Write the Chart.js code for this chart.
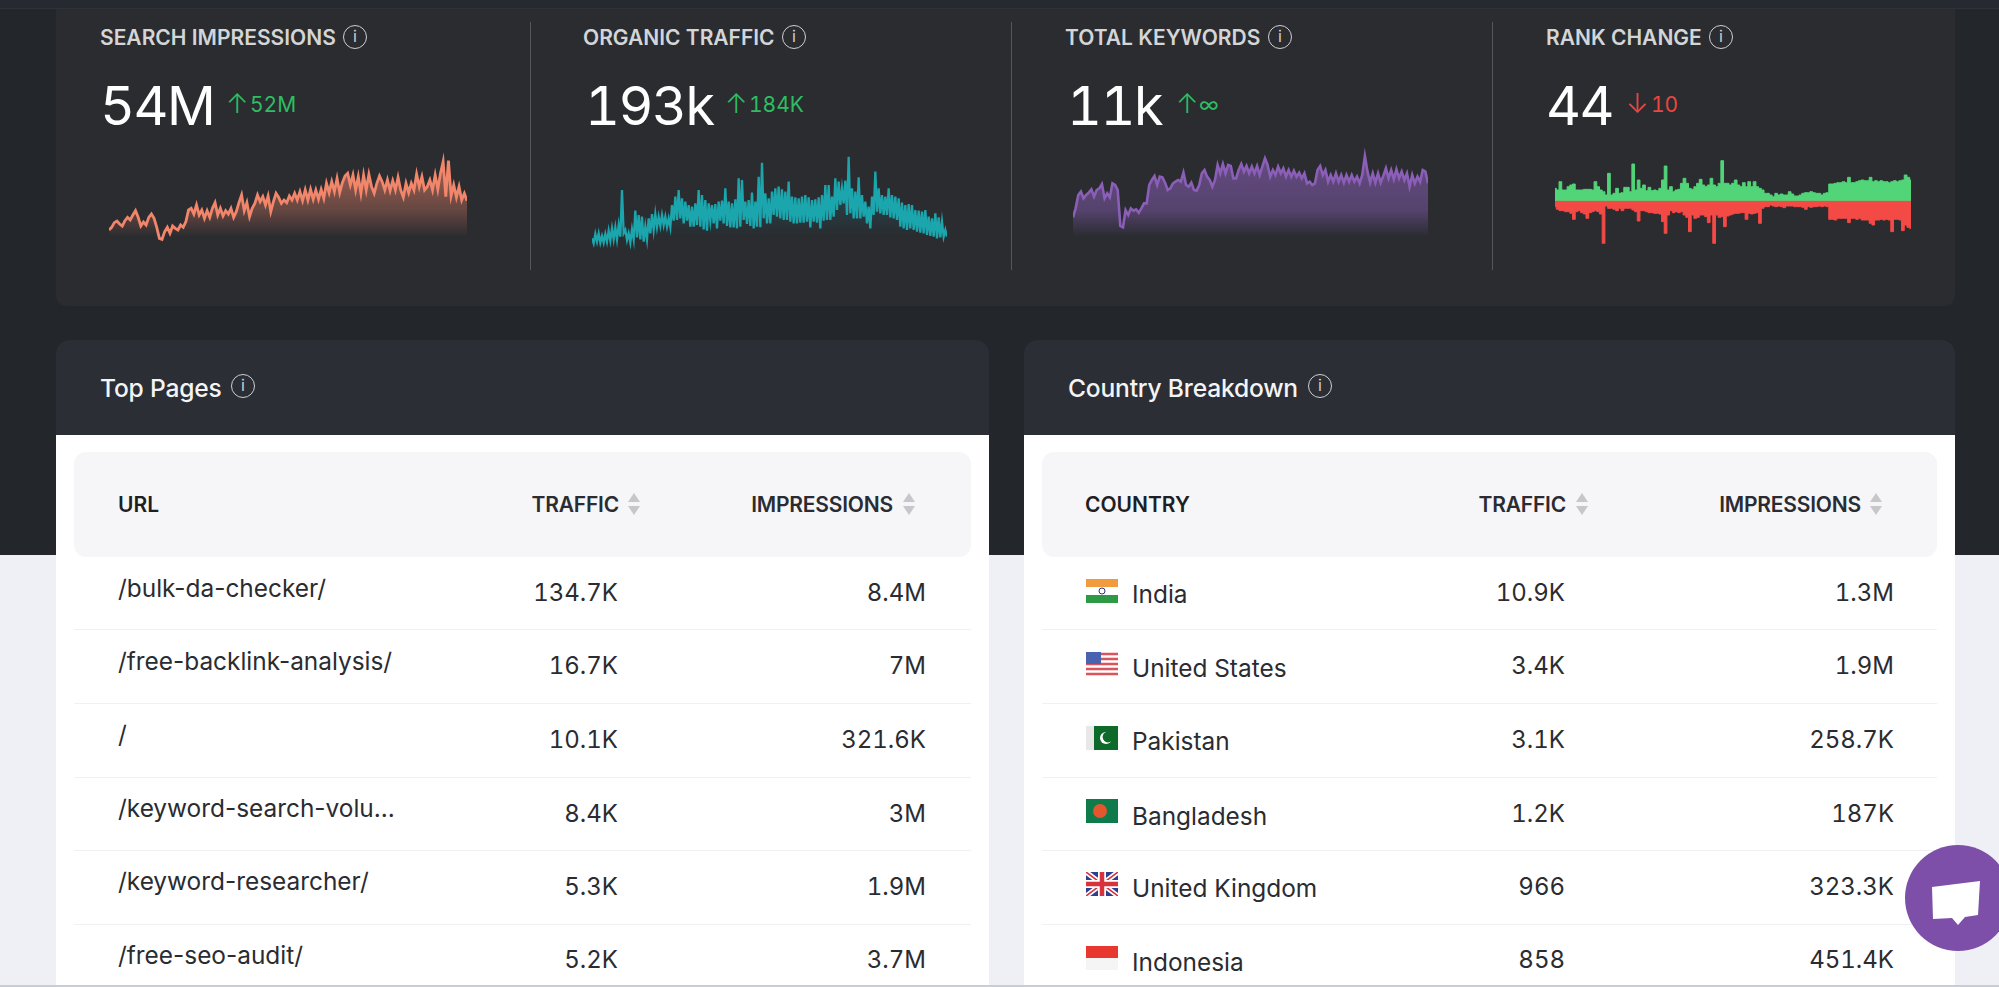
<!DOCTYPE html>
<html>
<head>
<meta charset="utf-8">
<title>Site overview</title>
<script src="https://cdn.jsdelivr.net/npm/chart.js@4"></script>
<style>
html, body { margin: 0; padding: 0; width: 1999px; height: 987px; overflow: hidden; background: #eef0f5; font-family: Inter, sans-serif; }
.box { position: absolute; }
.txt { position: absolute; white-space: nowrap; line-height: 1; }
canvas { position: absolute; }
.info { position: absolute; box-sizing: border-box; width: 24px; height: 24px; border: 1.8px solid #cfd0d2; border-radius: 50%; color: #cfd0d2; font-size: 16px; line-height: 20px; text-align: center; font-weight: 400; }
</style>
</head>
<body>
<script>
// Sparkline values
const impressionsValues = [90,98,112,117,108,102,118,128,120,135,148,128,102,114,105,128,138,125,98,65,62,85,98,80,102,95,90,105,98,115,150,155,138,165,135,150,125,148,128,155,172,135,155,132,148,138,155,128,145,172,195,148,172,130,155,170,195,175,190,165,192,145,175,200,188,170,180,172,192,180,200,180,205,178,210,180,212,182,210,182,212,185,230,202,235,205,245,202,232,252,260,225,255,210,250,200,255,210,257,220,200,230,252,235,210,240,208,238,210,248,210,188,230,202,230,210,258,220,250,210,220,240,210,255,212,260,295,190,298,192,225,188,220,180,200,178];
const trafficValues = [65,50,78,55,80,52,72,52,78,55,88,58,95,62,98,62,105,70,210,80,90,60,80,52,92,62,148,68,135,62,130,55,100,62,125,80,138,90,138,98,130,102,135,105,130,100,125,98,165,118,190,120,210,125,185,110,175,118,165,100,160,100,170,105,210,100,195,92,180,88,170,118,165,110,168,95,175,118,178,110,215,102,175,98,170,98,182,95,245,100,240,120,175,108,180,102,202,95,175,100,250,98,292,125,200,110,185,110,205,135,215,130,220,125,212,120,205,120,235,115,190,110,188,110,185,112,190,112,195,115,188,98,180,115,182,112,188,95,195,118,225,120,225,120,190,130,245,150,235,165,215,170,238,135,310,140,215,125,205,125,248,125,195,130,175,110,160,95,190,135,265,145,215,140,195,135,190,135,215,128,195,125,190,120,185,100,172,95,165,90,168,95,165,90,150,85,148,82,145,80,150,75,130,72,125,70,140,65,128,68,115,70,90,70];
const keywordValues = [128,155,195,205,185,195,202,212,190,210,215,228,185,200,188,230,225,210,102,98,150,135,155,148,152,142,155,170,170,225,240,252,225,250,248,232,210,215,230,235,240,235,262,225,220,232,210,208,225,260,270,250,240,220,240,285,260,288,260,285,282,245,245,270,288,265,282,260,280,260,282,255,280,305,285,250,270,255,280,260,275,250,270,250,268,250,262,245,260,230,235,225,230,270,282,255,270,235,255,235,260,235,255,232,255,235,255,235,250,230,255,312,265,232,260,232,260,232,252,275,245,270,242,272,245,265,240,260,220,255,230,250,235,270,265,230];
const rankUpValues = [37,32,57,32,32,42,47,50,32,32,32,34,34,34,32,57,42,32,27,17,82,17,22,37,22,24,40,40,27,110,32,62,37,47,30,40,30,32,30,37,62,104,32,42,27,32,34,52,67,52,37,34,42,52,64,47,42,47,67,47,42,52,120,52,52,47,52,62,47,42,54,42,57,42,57,42,37,32,22,22,17,12,22,17,20,17,17,27,20,14,14,17,22,24,24,27,24,22,22,17,22,24,50,50,52,54,54,57,54,70,54,54,57,60,62,60,60,70,57,60,57,60,57,57,54,57,60,57,60,62,77,70,62];
const rankDownValues = [-18,-26,-30,-30,-33,-33,-38,-56,-33,-30,-36,-40,-53,-36,-33,-30,-33,-40,-128,-16,-23,-23,-26,-30,-23,-30,-23,-23,-23,-28,-33,-61,-30,-30,-33,-36,-36,-38,-38,-40,-63,-98,-43,-30,-36,-33,-36,-33,-43,-50,-93,-43,-53,-50,-43,-43,-48,-66,-43,-128,-43,-50,-48,-78,-46,-43,-40,-38,-38,-36,-36,-56,-38,-40,-38,-36,-68,-23,-18,-18,-13,-16,-18,-16,-18,-21,-16,-16,-16,-18,-18,-18,-20,-26,-18,-20,-18,-18,-16,-18,-16,-18,-56,-56,-58,-53,-53,-53,-53,-66,-53,-53,-56,-53,-58,-58,-58,-68,-73,-58,-58,-56,-58,-56,-58,-93,-56,-56,-58,-90,-73,-80,-83];

// Table contents
const kpiTitles = ['SEARCH IMPRESSIONS', 'ORGANIC TRAFFIC', 'TOTAL KEYWORDS', 'RANK CHANGE'];
const kpiValues = ['54M', '193k', '11k', '44'];
const kpiDeltas = ['52M', '184K', '∞', '10'];
const pageUrls = ['/bulk-da-checker/', '/free-backlink-analysis/', '/', '/keyword-search-volu...', '/keyword-researcher/', '/free-seo-audit/'];
const pageTraffic = ['134.7K', '16.7K', '10.1K', '8.4K', '5.3K', '5.2K'];
const pageImpressions = ['8.4M', '7M', '321.6K', '3M', '1.9M', '3.7M'];
const countries = ['India', 'United States', 'Pakistan', 'Bangladesh', 'United Kingdom', 'Indonesia'];
const countryTraffic = ['10.9K', '3.4K', '3.1K', '1.2K', '966', '858'];
const countryImpressions = ['1.3M', '1.9M', '258.7K', '187K', '323.3K', '451.4K'];

function addBox(x, y, w, h, bg, radius) {
    const el = document.createElement('div');
    el.className = 'box';
    el.style.cssText = `left:${x}px;top:${y}px;width:${w}px;height:${h}px;background:${bg};border-radius:${radius || '0'};`;
    document.body.appendChild(el);
    return el;
}

// x is the left edge, or the right edge when right is true. y is the text centre.
function addText(text, x, y, size, weight, color, right, spacing) {
    const el = document.createElement('div');
    el.className = 'txt';
    el.textContent = text;
    el.style.cssText = `top:${y - size / 2}px;font-size:${size}px;font-weight:${weight};color:${color};letter-spacing:${spacing || 0}px;` +
        (right ? `right:${1999 - x}px;` : `left:${x}px;`);
    // numbers only: tabular figures also widen the hyphens in the urls
    if (/^\d/.test(text)) el.style.fontVariantNumeric = 'tabular-nums';
    document.body.appendChild(el);
}

function addInfo(x, y) {
    const el = document.createElement('div');
    el.className = 'info';
    el.textContent = 'i';
    el.style.left = (x - 12) + 'px';
    el.style.top = (y - 12) + 'px';
    document.body.appendChild(el);
}

function addSortArrows(x, y) {
    const el = document.createElement('div');
    el.innerHTML = `<svg width="14" height="24" style="position:absolute;left:${x - 7}px;top:${y - 12}px"><path d="M7 1 L13 10 L1 10 Z" fill="#c6c6cb"/><path d="M7 23 L13 14 L1 14 Z" fill="#c6c6cb"/></svg>`;
    document.body.appendChild(el);
}

function addSvg(markup, x, y, w, h) {
    const el = document.createElement('div');
    el.innerHTML = `<svg viewBox="0 0 32 24" width="${w}" height="${h}" style="position:absolute;left:${x}px;top:${y}px">${markup}</svg>`;
    document.body.appendChild(el);
}

// Page backgrounds
addBox(0, 0, 1999, 555, '#23262b');
addBox(0, 0, 1999, 8, '#262a30');
addBox(0, 8, 1999, 1, '#2f3238');
addBox(56, 9, 1899, 297, '#2a2c30', '0 0 10px 10px');

// KPI strip
[530, 1011, 1492].forEach(x => addBox(x, 22, 1, 248, '#54565a'));
const kpiTitleX = [100, 583, 1065, 1546];
const kpiInfoX = [355, 794, 1280, 1721];
const kpiValueX = [100, 585, 1067, 1546];
const kpiArrowX = [226, 725, 1176, 1626];
const kpiDeltaX = [250, 749, 1199, 1651];
kpiTitles.forEach((t, i) => {
    addText(t, kpiTitleX[i], 37, 21, 600, '#d4d5d7');
    addInfo(kpiInfoX[i], 37);
    addText(kpiValues[i], kpiValueX[i], 106, 54, 400, '#ffffff', false, -1.5);
    const down = i === 3;
    const col = down ? '#e9473f' : '#2ebd62';
    addText(down ? '↓' : '↑', kpiArrowX[i], 103, 27, 300, col);
    addText(kpiDeltas[i], kpiDeltaX[i], 104, 21, 400, col);
});

// Sparklines
function spark(id, x, w, datasets, yMin, yMax) {
    const canvas = document.createElement('canvas');
    canvas.id = id;
    canvas.width = w;
    canvas.height = 120;
    canvas.style.left = x + 'px';
    canvas.style.top = '140px';
    document.body.appendChild(canvas);
    const longest = Math.max(...datasets.map(d => d.data.length));
    new Chart(canvas.getContext('2d'), {
        type: 'line',
        data: {
            labels: Array.from({ length: longest }, (_, i) => i + 1),
            datasets: datasets
        },
        options: {
            responsive: false,
            animation: false,
            layout: { padding: 0 },
            elements: { point: { radius: 0 }, line: { tension: 0 } },
            scales: {
                x: { display: false },
                y: { display: false, min: yMin, max: yMax }
            },
            plugins: { legend: { display: false }, tooltip: { enabled: false } }
        }
    });
}

function fade(rgb, topAlpha, midAlpha) {
    const g = document.createElement('canvas').getContext('2d').createLinearGradient(0, 20, 0, 97);
    g.addColorStop(0, `rgba(${rgb},${topAlpha})`);
    g.addColorStop(0.65, `rgba(${rgb},${midAlpha})`);
    g.addColorStop(1, `rgba(${rgb},0)`);
    return g;
}

spark('impressionsChart', 109, 358, [{
    data: impressionsValues, borderColor: '#f2866b', borderWidth: 2.8, fill: 'origin', backgroundColor: fade('240,133,106', 0.62, 0.3)
}], 0, 360);
spark('trafficChart', 592, 355, [{
    data: trafficValues, borderColor: '#1ba5ad', borderWidth: 2.3, fill: 'origin', backgroundColor: fade('27,165,173', 0.2, 0.12)
}], 0, 360);
spark('keywordsChart', 1073, 355, [{
    data: keywordValues, borderColor: '#8b5fb8', borderWidth: 2.6, fill: 'origin', backgroundColor: fade('139,95,184', 0.6, 0.45)
}], 0, 360);
spark('rankChart', 1555, 356, [
    { data: rankUpValues, borderColor: '#52d478', borderWidth: 1, fill: 'origin', backgroundColor: '#52d478', stepped: 'middle' },
    { data: rankDownValues, borderColor: '#f44a45', borderWidth: 1, fill: 'origin', backgroundColor: '#f44a45', stepped: 'middle' },
    { data: rankUpValues.map(() => 0), borderColor: '#a3a064', borderWidth: 2, fill: false }
], -178, 182);

// Table panels
function panel(x, w, title, infoX, firstHead, firstX, trafficRight, trafficArrow, imprRight, imprArrow) {
    addBox(x, 340, w, 96, '#2b2e35', '14px 14px 0 0');
    addBox(x, 435, w, 552, '#ffffff');
    addBox(x + 18, 452, w - 36, 105, '#f6f6f9', '12px');
    addText(title, x + 44, 388, 24.6, 500, '#f4f4f5', false, -0.2);
    addInfo(infoX, 386);
    addText(firstHead, firstX, 504.5, 21, 600, '#1d1f24');
    addText('TRAFFIC', trafficRight, 504.5, 21, 600, '#2a2c31', true, -0.2);
    addSortArrows(trafficArrow, 504);
    addText('IMPRESSIONS', imprRight, 504.5, 21, 600, '#2a2c31', true, -0.2);
    addSortArrows(imprArrow, 504);
    [629, 703, 777, 850, 924].forEach(y => addBox(x + 18, y, w - 36, 1, '#f1f1f4'));
}

panel(56, 933, 'Top Pages', 243, 'URL', 118, 619, 634, 893, 909);
panel(1024, 931, 'Country Breakdown', 1320, 'COUNTRY', 1085, 1566, 1582, 1861, 1876);

const rowY = [593, 666, 740, 814, 887, 960];
const urlY = [588, 661, 734, 808, 881, 955];
const countryY = [594, 668, 741, 816, 888, 962];
pageUrls.forEach((u, i) => {
    addText(u, 118, urlY[i], 24.4, 400, '#2a2c31');
    addText(pageTraffic[i], 618, rowY[i], 24, 400, '#2a2c31', true);
    addText(pageImpressions[i], 926, rowY[i], 24, 400, '#2a2c31', true);
});
countries.forEach((c, i) => {
    addText(c, 1132, countryY[i], 24.4, 400, '#2a2c31');
    addText(countryTraffic[i], 1565, rowY[i], 24, 400, '#2a2c31', true);
    addText(countryImpressions[i], 1894, rowY[i], 24, 400, '#2a2c31', true);
});

// Flags
const flags = [
    '<rect width="32" height="8" fill="#f29a3e"/><rect y="8" width="32" height="8" fill="#fff"/><rect y="16" width="32" height="8" fill="#2f9a45"/><circle cx="16" cy="12" r="3" fill="none" stroke="#27348b"/>',
    '<rect width="32" height="24" fill="#fff"/><path d="M0 2H32M0 7H32M0 12H32M0 17H32M0 22H32" stroke="#d9545d" stroke-width="2.4"/><rect width="15" height="12" fill="#4a63b0"/>',
    '<rect width="32" height="24" fill="#0e6a2a"/><rect width="8" height="24" fill="#e8e8e8"/><circle cx="20" cy="12" r="6" fill="#fff"/><circle cx="22" cy="11" r="5.4" fill="#0e6a2a"/>',
    '<rect width="32" height="24" fill="#0f7a4a"/><circle cx="14" cy="12" r="7" fill="#e4572e"/>',
    '<rect width="32" height="24" fill="#2f3f8f"/><path d="M0 0L32 24M32 0L0 24" stroke="#fff" stroke-width="5"/><path d="M0 0L32 24M32 0L0 24" stroke="#d8333c" stroke-width="1.6"/><path d="M16 0V24M0 12H32" stroke="#fff" stroke-width="8"/><path d="M16 0V24M0 12H32" stroke="#d8333c" stroke-width="4.5"/>',
    '<rect width="32" height="12" fill="#e8372f"/><rect y="12" width="32" height="12" fill="#f5f5f5"/>'
];
const flagY = [579, 652, 726, 799, 872, 946];
flags.forEach((f, i) => addSvg(f, 1086, flagY[i], 32, 24));

// Chat bubble
const chat = document.createElement('div');
chat.innerHTML = '<svg width="94" height="106" style="position:absolute;left:1905px;top:845px"><circle cx="53" cy="53" r="53" fill="#7d4fa9"/><path d="M27 42 L75 36 L73 70 L60 72 L53 80 L47 73 L28 74 Z" fill="#fff"/></svg>';
document.body.appendChild(chat);
addBox(0, 985, 1999, 2, '#c9ccd2');
</script>
</body>
</html>
